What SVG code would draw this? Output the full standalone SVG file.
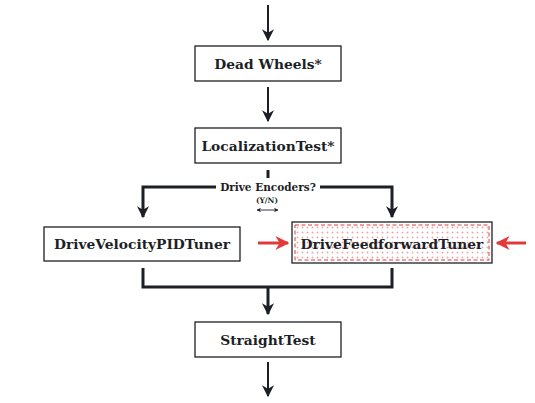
<svg xmlns="http://www.w3.org/2000/svg" width="535" height="403" viewBox="0 0 535 403">
<style>
.box{fill:#fff;stroke:#1c1f26;stroke-width:1.3}
.lbl{font-family:"DejaVu Serif","Liberation Serif",serif;font-weight:bold;font-size:13.8px;fill:#1c1f26;text-anchor:middle}
.ln{stroke:#1c1f26;fill:none;stroke-width:2}
.thick{stroke:#1c1f26;fill:none;stroke-width:3}
.red{stroke:#e03a3a;fill:none;stroke-width:3}
</style>
<defs>
<marker id="ahb" viewBox="0 0 10 10" refX="9" refY="5" markerWidth="12" markerHeight="13" markerUnits="userSpaceOnUse" orient="auto">
<path d="M0,0 L10,5 L0,10 L3,5 Z" fill="#1c1f26"/>
</marker>
<marker id="ahr" viewBox="0 0 10 10" refX="9" refY="5" markerWidth="14" markerHeight="14" markerUnits="userSpaceOnUse" orient="auto">
<path d="M0,0 L10,5 L0,10 L3,5 Z" fill="#e03a3a"/>
</marker>
<marker id="sm" viewBox="0 0 10 10" refX="9" refY="5" markerWidth="4.5" markerHeight="4.5" markerUnits="userSpaceOnUse" orient="auto-start-reverse">
<path d="M0,0 L10,5 L0,10 L3,5 Z" fill="#1c1f26"/>
</marker>
<pattern id="dots" width="5" height="5" patternUnits="userSpaceOnUse">
<path d="M2.5,1.5 V3.5 M1.5,2.5 H3.5" stroke="#f09a9a" stroke-width="0.7"/>
</pattern>
</defs>
<g id="connectors">
<line class="ln" x1="268" y1="5" x2="268" y2="40" marker-end="url(#ahb)"/>
<line class="ln" x1="268" y1="87" x2="268" y2="121" marker-end="url(#ahb)"/>
<line class="thick" x1="268" y1="170" x2="268" y2="178"/>
<polyline class="thick" points="216,187 143,187 143,217" marker-end="url(#ahb)"/>
<polyline class="thick" points="320,187 392,187 392,217" marker-end="url(#ahb)"/>
<text x="268" y="190.5" font-family="DejaVu Serif,serif" font-weight="bold" font-size="10.5" fill="#1c1f26" text-anchor="middle">Drive Encoders?</text>
<text x="267" y="203" font-family="DejaVu Serif,serif" font-weight="bold" font-size="7.5" fill="#1c1f26" text-anchor="middle">(Y/N)</text>
<line stroke="#1c1f26" stroke-width="0.9" x1="257" y1="210" x2="278" y2="210" marker-start="url(#sm)" marker-end="url(#sm)"/>
<polyline class="thick" points="143,268 143,287 392,287 392,268"/>
<line class="thick" x1="268" y1="287" x2="268" y2="314" marker-end="url(#ahb)"/>
<line class="ln" x1="268" y1="362" x2="268" y2="396" marker-end="url(#ahb)"/>
<line class="red" x1="258" y1="243" x2="288" y2="243" marker-end="url(#ahr)"/>
<line class="red" x1="526" y1="243" x2="497" y2="243" marker-end="url(#ahr)"/>
</g>
<g id="dead-wheels">
<rect class="box" x="195" y="46" width="146" height="35"/>
<text class="lbl" x="268" y="68.5">Dead Wheels*</text>
</g>
<g id="localization-test">
<rect class="box" x="195" y="128" width="146" height="35"/>
<text class="lbl" x="268" y="150.5">LocalizationTest*</text>
</g>
<g id="drive-velocity-pid-tuner">
<rect class="box" x="44" y="227" width="196" height="34"/>
<text class="lbl" x="142" y="248.5">DriveVelocityPIDTuner</text>
</g>
<g id="drive-feedforward-tuner">
<rect x="292" y="222" width="200" height="41" fill="#fff" stroke="#1c1f26" stroke-width="1.3"/>
<rect x="295" y="225" width="194" height="35" fill="url(#dots)" stroke="#e03a3a" stroke-width="1" stroke-dasharray="4,2.5"/>
<text class="lbl" x="392" y="248.5">DriveFeedforwardTuner</text>
</g>
<g id="straight-test">
<rect class="box" x="195" y="322" width="146" height="35"/>
<text class="lbl" x="268" y="344.5">StraightTest</text>
</g>
</svg>
